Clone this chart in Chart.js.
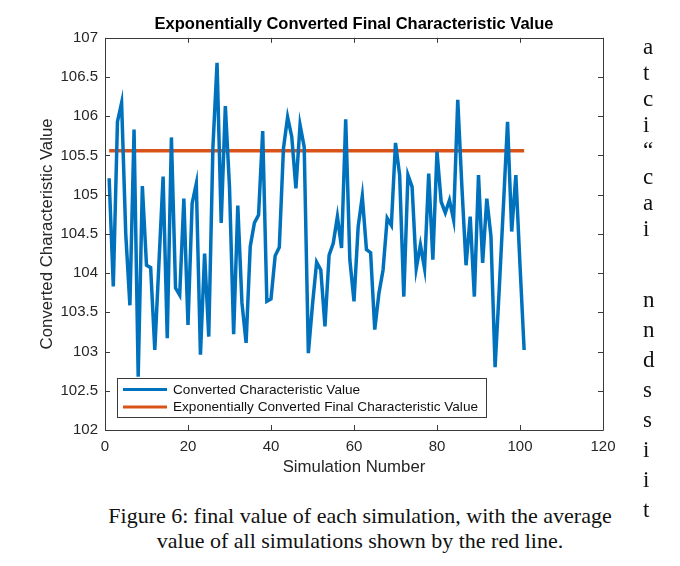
<!DOCTYPE html>
<html>
<head>
<meta charset="utf-8">
<script src="https://cdn.jsdelivr.net/npm/chart.js@4.4.1/dist/chart.umd.min.js"></script>
<style>
  body { margin: 0; background: #fff; width: 680px; height: 566px; overflow: hidden; position: relative; }
  #wrap { position: absolute; left: 0; top: 0; width: 680px; height: 490px; }
  .caption {
    position: absolute; left: 60px; width: 600px; top: 503px;
    font-family: "Liberation Serif", "Times New Roman", serif;
    font-size: 22px; line-height: 25px; text-align: center; color: #111;
  }
  .side {
    position: absolute; left: 643px;
    font-family: "Liberation Serif", "Times New Roman", serif;
    font-size: 23px; line-height: 26px; color: #111;
  }
</style>
</head>
<body>
<div id="wrap"><canvas id="sim-chart" width="680" height="490"></canvas></div>
<div class="caption">Figure 6: final value of each simulation, with the average<br>value of all simulations shown by the red line.</div>
<div class="side" style="top:34px">a<br>t<br>c<br>i<br>“<br>c<br>a<br>i</div>
<div class="side" style="top:285px; line-height:30px">n<br>n<br>d<br>s<br>s<br>i<br>i<br>t</div>
<script>
// values

const convertedValues = [
  105.21, 103.83, 105.93, 106.17, 104.5, 103.59, 105.83, 102.68, 105.11, 104.10,
  104.07, 103.02, 104.13, 105.23, 103.17, 105.73, 103.81, 103.72, 104.95, 103.34,
  104.89, 105.14, 102.96, 104.25, 103.19, 105.6, 106.68, 104.64, 106.13, 105.1,
  103.22, 104.86, 103.62, 103.11, 104.34, 104.64, 104.74, 105.81, 103.64, 103.67,
  104.22, 104.33, 105.59, 105.99, 105.74, 105.08, 105.89, 105.61, 102.98, 103.6,
  104.14, 104.04, 103.32, 104.23, 104.38, 104.72, 104.32, 105.96, 104.17, 103.64,
  104.59, 104.98, 104.30, 104.26, 103.28, 103.74, 104.04, 104.70, 104.61, 105.66,
  105.25, 103.70, 105.25, 105.10, 104.06, 104.36, 104.06, 105.27, 104.17, 105.55,
  104.91, 104.77, 104.93, 104.68, 106.21, 105.1, 104.10, 104.72, 103.70, 105.25,
  104.13, 104.95, 104.47, 102.80, 103.8, 104.85, 105.93, 104.53, 105.25, 104.1,
  103.02
];
const firstSimulation = 1;
const finalValue = [105.56, 105.56];
const finalRange = [1, 101];

const xTicks = [0, 20, 40, 60, 80, 100, 120];
const yTicks = [102, 102.5, 103, 103.5, 104, 104.5, 105, 105.5, 106, 106.5, 107];

const seriesNames = ["Converted Characteristic Value", "Exponentially Converted Final Characteristic Value"];

const blue = "rgb(0, 114, 189)";
const orange = "rgb(217, 83, 25)";
const axisColor = "#3a3a3a";
const sans = "'Liberation Sans', Arial, sans-serif";

// matlab style box + inward ticks
const boxPlugin = {
  id: "matlabBox",
  afterDraw(chart) {
    const { ctx, chartArea: a, scales } = chart;
    ctx.save();
    ctx.strokeStyle = axisColor;
    ctx.lineWidth = 1;
    ctx.beginPath();
    ctx.rect(Math.round(a.left) + 0.5, Math.round(a.top) + 0.5, Math.round(a.right - a.left), Math.round(a.bottom - a.top));
    scales.x.ticks.forEach((t) => {
      const px = Math.round(scales.x.getPixelForValue(t.value)) + 0.5;
      ctx.moveTo(px, a.bottom); ctx.lineTo(px, a.bottom - 5);
      ctx.moveTo(px, a.top); ctx.lineTo(px, a.top + 5);
    });
    scales.y.ticks.forEach((t) => {
      const py = Math.round(scales.y.getPixelForValue(t.value)) + 0.5;
      ctx.moveTo(a.left, py); ctx.lineTo(a.left + 5, py);
      ctx.moveTo(a.right, py); ctx.lineTo(a.right - 5, py);
    });
    ctx.stroke();
    ctx.restore();
  },
};

// legend box inside lower left corner
const legendPlugin = {
  id: "insideLegend",
  afterDatasetsDraw(chart) {
    const { ctx, chartArea: a } = chart;
    ctx.save();
    ctx.font = "13.6px " + sans;
    const w = Math.max(...chart.data.datasets.map((d) => ctx.measureText(d.label).width)) + 64;
    const h = 39;
    const x = a.left + 12;
    const y = a.bottom - 52;
    ctx.fillStyle = "#fff";
    ctx.fillRect(x, y, w, h);
    ctx.strokeStyle = axisColor;
    ctx.lineWidth = 1;
    ctx.strokeRect(Math.round(x) + 0.5, Math.round(y) + 0.5, Math.round(w), h);
    chart.data.datasets.forEach((d, i) => {
      const cy = y + 11.5 + i * 17.5;
      ctx.strokeStyle = d.borderColor;
      ctx.lineWidth = 3;
      ctx.beginPath();
      ctx.moveTo(x + 6, cy); ctx.lineTo(x + 50, cy);
      ctx.stroke();
      ctx.fillStyle = "#111";
      ctx.textBaseline = "middle";
      ctx.fillText(d.label, x + 56, cy + 0.5);
    });
    ctx.restore();
  },
};

function createSimulationChart() {
  const ctx = document.getElementById("sim-chart").getContext("2d");

  const data = {
    datasets: [
      {
        label: seriesNames[0],
        data: convertedValues.map((v, i) => ({ x: firstSimulation + i, y: v })),
        borderColor: blue,
        borderWidth: 3.5,
        pointRadius: 0,
        tension: 0,
      },
      {
        label: seriesNames[1],
        data: finalRange.map((x, i) => ({ x: x, y: finalValue[i] })),
        borderColor: orange,
        borderWidth: 3.5,
        pointRadius: 0,
      },
    ],
  };

  const config = {
    type: "line",
    data: data,
    options: {
      responsive: false,
      animation: false,
      layout: { padding: { left: 28, right: 0, top: 0, bottom: 0 } },
      plugins: {
        legend: { display: false },
        tooltip: { enabled: false },
        title: {
          display: true,
          text: "Exponentially Converted Final Characteristic Value",
          color: "#000",
          font: { family: sans, size: 16.5, weight: "bold" },
          padding: { top: 15, bottom: 3 },
        },
      },
      scales: {
        x: {
          type: "linear",
          min: xTicks[0],
          max: xTicks[xTicks.length - 1],
          afterBuildTicks: (s) => { s.ticks = xTicks.map((v) => ({ value: v })); },
          afterFit: (s) => { s.height = 60; },
          grid: { display: false, drawTicks: false },
          border: { display: false },
          ticks: { color: "#262626", font: { family: sans, size: 15 }, padding: 8, maxRotation: 0, callback: (v) => String(v) },
          title: {
            display: true,
            text: "Simulation Number",
            color: "#262626",
            font: { family: sans, size: 16.8 },
            padding: { top: 0, bottom: 13 },
          },
        },
        y: {
          min: yTicks[0],
          max: yTicks[yTicks.length - 1],
          afterBuildTicks: (s) => { s.ticks = yTicks.map((v) => ({ value: v })); },
          afterFit: (s) => { s.width = 77; },
          grid: { display: false, drawTicks: false },
          border: { display: false },
          ticks: { color: "#262626", font: { family: sans, size: 15 }, padding: 7, callback: (v) => String(v) },
          title: {
            display: true,
            text: "Converted Characteristic Value",
            color: "#262626",
            font: { family: sans, size: 16.8 },
            padding: { top: 9, bottom: 0 },
          },
        },
        // empty right axis only to keep the plot box where the figure has it
        yRight: {
          position: "right",
          afterFit: (s) => { s.width = 77; },
          grid: { display: false, drawTicks: false },
          border: { display: false },
          ticks: { display: false },
        },
      },
    },
    plugins: [boxPlugin, legendPlugin],
  };

  const myChart = new Chart(ctx, config);
}

createSimulationChart();
</script>
</body>
</html>
